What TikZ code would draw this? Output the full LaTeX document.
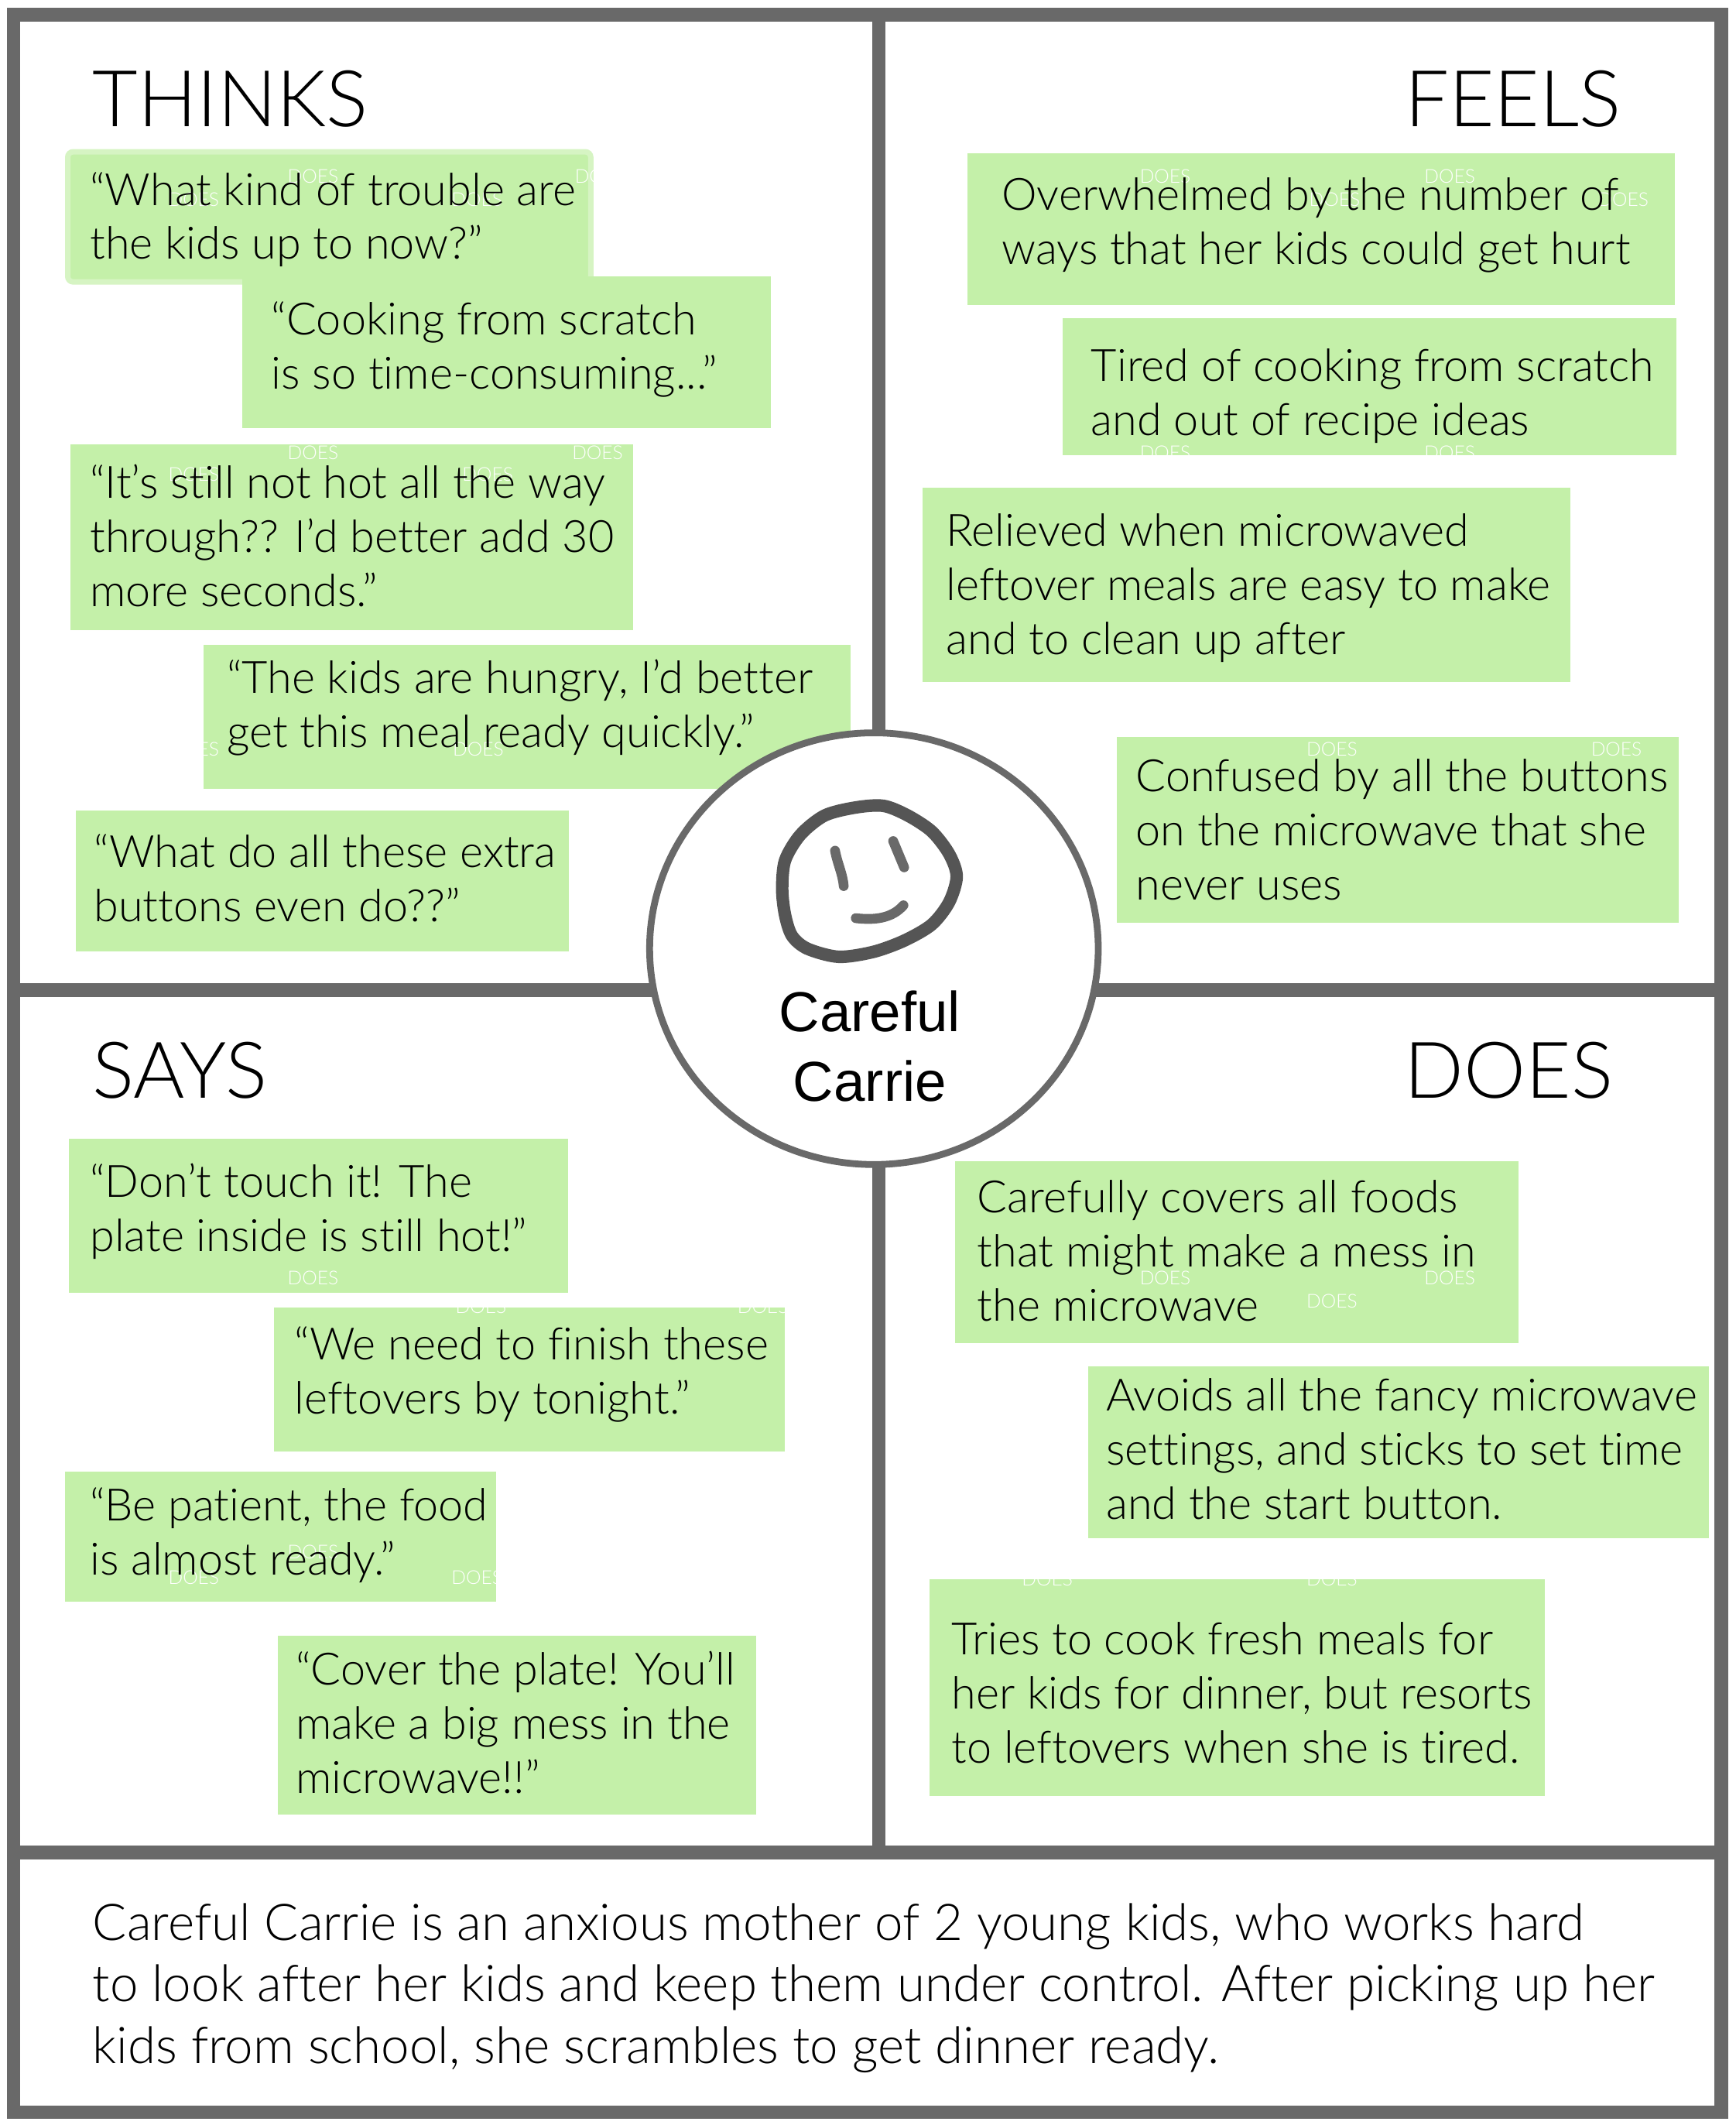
\documentclass[tikz,border=0pt]{standalone}
\usepackage{fontspec}
\setmainfont[Ligatures=NoCommon]{Lato Light}
\newfontfamily\namefont{Liberation Sans}
\usetikzlibrary{shapes.geometric}
\definecolor{framegray}{HTML}{696969}
\definecolor{facegray}{HTML}{555555}
\definecolor{notegreen}{HTML}{C4F0A9}
\tikzset{
	frameline/.style = {framegray, line width = 5pt},
	notefill/.style = {fill = notegreen},
	notetext/.style = {anchor = west, align = left, inner sep = 0pt, font = \fontsize{16.4}{19.92}\selectfont},
	heading/.style = {inner sep = 0pt, font = \fontsize{28.8}{34}\selectfont},
	summary/.style = {anchor = west, align = left, inner sep = 0pt, font = \fontsize{18.65}{22.7}\selectfont},
	ghost/.style = {white, inner sep = 0pt, font = \fontsize{7}{8}\selectfont},
	hub/.style = {ellipse, draw = framegray, fill = white, line width = 2.5pt, inner sep = 0pt, minimum width = 5.8cm, minimum height = 5.58cm},
	carriename/.style = {inner sep = 0pt, align = center, font = \namefont\fontsize{20.7}{25.6}\selectfont},
	facestroke/.style = {facegray, line width = 4.6pt, line cap = round, line join = round},
	facemark/.style = {framegray, line width = 3.6pt, line cap = round}
}
\begin{document}
\begin{tikzpicture}[x = 0.01751cm, y = -0.01751cm]
	\useasboundingbox [fill = white] (0,0) rectangle (1281,1568);
	\draw [frameline] (10,11) rectangle (1270.5,1558.5);
	\draw [frameline] (10,730.5) -- (1270.5,730.5);
	\draw [frameline] (10,1367) -- (1270.5,1367);
	\draw [frameline] (648.5,11) -- (648.5,1367);

	\fill [notegreen, draw = notegreen!70!white, line width = 2pt, rounded corners = 2pt] (50,112) rectangle (436,208);
	\fill [notefill] (179,204) rectangle (569,316);
	\fill [notefill] (52,328) rectangle (467,465);
	\fill [notefill] (150,476) rectangle (628,582);
	\fill [notefill] (56,598) rectangle (420,702);
	\fill [notefill] (714,113) rectangle (1236,225);
	\fill [notefill] (784,235) rectangle (1237,336);
	\fill [notefill] (681,360) rectangle (1159,503);
	\fill [notefill] (824,544) rectangle (1239,681);
	\fill [notefill] (51,840) rectangle (419,954);
	\fill [notefill] (202,965) rectangle (579,1071);
	\fill [notefill] (48,1086) rectangle (366,1182);
	\fill [notefill] (205,1207) rectangle (558,1339);
	\fill [notefill] (705,857) rectangle (1121,991);
	\fill [notefill] (803,1008) rectangle (1261,1135);
	\fill [notefill] (686,1165) rectangle (1140,1325);

	\foreach \x/\y [count = \i] in {231/130, 443/130, 143/147, 352/147, 231/334, 441/334, 143/350, 360/350, 860/130, 1070/130, 985/147, 1198/147, 860/334, 1070/334, 143/553, 353/553, 983/553, 1193/553, 231/943, 355/964, 563/964, 860/943, 1070/943, 983/960, 231/1145, 143/1164, 352/1164, 773/1165, 983/1165}
		\node [ghost] (ghost\i) at (\x,\y) {DOES};

	\node [heading, anchor = west] (thinks) at (68,73) {THINKS};
	\node [heading, anchor = east] (feels) at (1197,73) {FEELS};
	\node [heading, anchor = west] (says) at (68,790) {SAYS};
	\node [heading, anchor = east] (does) at (1191,790) {DOES};

	\node [notetext] (thinksA) at (66,162) {“What kind of trouble are\\the kids up to now?”};
	\node [notetext] (thinksB) at (200,258) {“Cooking from scratch\\is so time-consuming...”};
	\node [notetext] (thinksC) at (66,395) {“It’s still not hot all the way\\through?? I’d better add 30\\more seconds.”};
	\node [notetext] (thinksD) at (167,522) {“The kids are hungry, I’d better\\get this meal ready quickly.”};
	\node [notetext] (thinksE) at (69,648) {“What do all these extra\\buttons even do??”};

	\node [notetext] (feelsA) at (739,166) {Overwhelmed by the number of\\ways that her kids could get hurt};
	\node [notetext] (feelsB) at (805,292) {Tired of cooking from scratch\\and out of recipe ideas};
	\node [notetext] (feelsC) at (698,434) {Relieved when microwaved\\leftover meals are easy to make\\and to clean up after};
	\node [notetext] (feelsD) at (838,612) {Confused by all the buttons\\on the microwave that she\\never uses};

	\node [notetext] (saysA) at (66,894) {“Don’t touch it! The\\plate inside is still hot!”};
	\node [notetext] (saysB) at (217,1014) {“We need to finish these\\leftovers by tonight.”};
	\node [notetext] (saysC) at (66,1133) {“Be patient, the food\\is almost ready.”};
	\node [notetext] (saysD) at (218,1271) {“Cover the plate! You’ll\\make a big mess in the\\microwave!!”};

	\node [notetext] (doesA) at (721,923) {Carefully covers all foods\\that might make a mess in\\the microwave};
	\node [notetext] (doesB) at (816,1069) {Avoids all the fancy microwave\\settings, and sticks to set time\\and the start button.};
	\node [notetext] (doesC) at (702,1249) {Tries to cook fresh meals for\\her kids for dinner, but resorts\\to leftovers when she is tired.};

	\node [summary] (story) at (68,1467) {Careful Carrie is an anxious mother of 2 young kids, who works hard\\to look after her kids and keep them under control. After picking up her\\kids from school, she scrambles to get dinner ready.};

	\node [hub] (carrie) at (645,700) {};
	\node [carriename] (carrieName) at (642,772) {Careful\\Carrie};
	\draw [facestroke] plot [smooth cycle] coordinates {(669.9,601.7) (687.7,613.5) (700.5,630.1) (706.1,646.7) (700.5,665.7) (687.7,682.2) (667.3,694.1) (644.4,702.4) (618.9,706) (595.9,700) (584.5,690.5) (579.4,675.1) (577.3,656.2) (579.4,634.9) (590.8,615.9) (608.7,601.7) (631.6,595.8) (652,594.6)};
	\draw [facemark] (616.3,627.7) .. controls (618,637) and (622,645) .. (622.7,653.8);
	\draw [facemark] (659.2,620.6) -- (667.3,640);
	\draw [facemark] (631.6,677.5) .. controls (645,679) and (658,678) .. (666.8,668);
\end{tikzpicture}
\end{document}
